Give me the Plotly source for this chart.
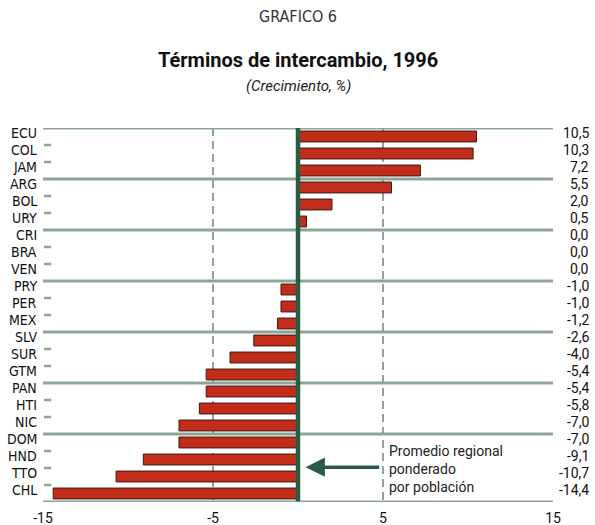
import plotly.graph_objects as go

countries = ["ECU", "COL", "JAM", "ARG", "BOL", "URY", "CRI", "BRA", "VEN", "PRY", "PER",
             "MEX", "SLV", "SUR", "GTM", "PAN", "HTI", "NIC", "DOM", "HND", "TTO", "CHL"]
values = [10.5, 10.3, 7.2, 5.5, 2.0, 0.5, 0.0, 0.0, 0.0, -1.0, -1.0,
          -1.2, -2.6, -4.0, -5.4, -5.4, -5.8, -7.0, -7.0, -9.1, -10.7, -14.4]
x_ticks = [-15, -5, 5, 15]
group_lines = [-0.5, 2.5, 5.5, 8.5, 11.5, 14.5, 17.5, 21.5]

FONT = "DejaVu Sans Condensed, Liberation Sans Narrow, Roboto, sans-serif"
FONT2 = "Roboto, sans-serif"
GRID = "#8ea596"
DARK = "#2d5a45"

fig = go.Figure()
fig.add_trace(go.Bar(
    x=values, y=countries, orientation="h",
    marker=dict(color="#c22d1b", line=dict(color="#3a1a10", width=1)),
    width=0.64, hoverinfo="x+y",
))

shapes = []
for g in group_lines:
    shapes.append(dict(type="line", xref="paper", yref="y", x0=0, x1=1, y0=g, y1=g,
                       line=dict(color=GRID, width=3), layer="below"))
for i in range(len(countries) - 1):
    b = i + 0.5
    if b not in group_lines:
        shapes.append(dict(type="line", xref="paper", yref="y", x0=0.002, x1=0.016, y0=b, y1=b,
                           line=dict(color=GRID, width=2.5)))
for xv in [-5, 5]:
    shapes.append(dict(type="line", xref="x", yref="y", x0=xv, x1=xv, y0=-0.5, y1=21.5,
                       line=dict(color=GRID, width=2, dash="8px,5px"), layer="below"))
shapes.append(dict(type="line", xref="x", yref="y", x0=0, x1=0, y0=-0.65, y1=21.45,
                   line=dict(color=DARK, width=4.5)))

annotations = []
for c, v in zip(countries, values):
    annotations.append(dict(x=0, xref="paper", y=c, yref="y", text=c, showarrow=False,
                            xanchor="right", yanchor="middle", xshift=-4, yshift=4,
                            font=dict(family=FONT, size=14, color="#111")))
    annotations.append(dict(x=1, xref="paper", y=c, yref="y",
                            text=f"{v:.1f}".replace(".", ","), showarrow=False,
                            xanchor="right", yanchor="middle", xshift=38, yshift=4,
                            font=dict(family=FONT2, size=14, color="#111")))

annotations += [
    dict(x=0.5, xref="paper", y=1.297, yref="paper", text="GRAFICO 6", showarrow=False,
         xanchor="center", yanchor="middle",
         font=dict(family=FONT, size=16, color="#333")),
    dict(x=0.5, xref="paper", y=1.183, yref="paper", text="<b>Términos de intercambio, 1996</b>",
         showarrow=False, xanchor="center", yanchor="middle",
         font=dict(family=FONT2, size=20, color="#111")),
    dict(x=0.5, xref="paper", y=1.113, yref="paper", text="<i>(Crecimiento, %)</i>",
         showarrow=False, xanchor="center", yanchor="middle",
         font=dict(family=FONT2, size=15, color="#222")),
    dict(x=0.45, xref="x", y=19.45, yref="y", text="", showarrow=True, ax=75, ay=0,
         arrowhead=2, arrowsize=1.1, arrowwidth=3.5, arrowcolor=DARK),
    dict(x=5.25, xref="x", y=19.55, yref="y",
         text="Promedio regional<br>ponderado<br>por población", showarrow=False,
         xanchor="left", yanchor="middle", align="left",
         font=dict(family=FONT2, size=14, color="#222")),
]

fig.update_layout(
    width=595, height=525, autosize=False,
    margin=dict(l=43, r=42, t=128, b=23, pad=0),
    paper_bgcolor="white", plot_bgcolor="white",
    showlegend=False,
    shapes=shapes, annotations=annotations,
    xaxis=dict(range=[-15, 15], tickvals=x_ticks, ticktext=[str(t) for t in x_ticks],
               showgrid=False, zeroline=False, showline=False, ticks="",
               automargin=False, ticklabelstandoff=6,
               tickfont=dict(family=FONT2, size=14, color="#111")),
    yaxis=dict(categoryorder="array", categoryarray=countries, range=[21.5, -0.5],
               automargin=False,
               showticklabels=False, showgrid=False, zeroline=False, showline=False),
)

fig.write_html("out.html", config={"displayModeBar": False},
               post_script="document.body.style.margin='0';document.body.style.overflow='hidden';")
